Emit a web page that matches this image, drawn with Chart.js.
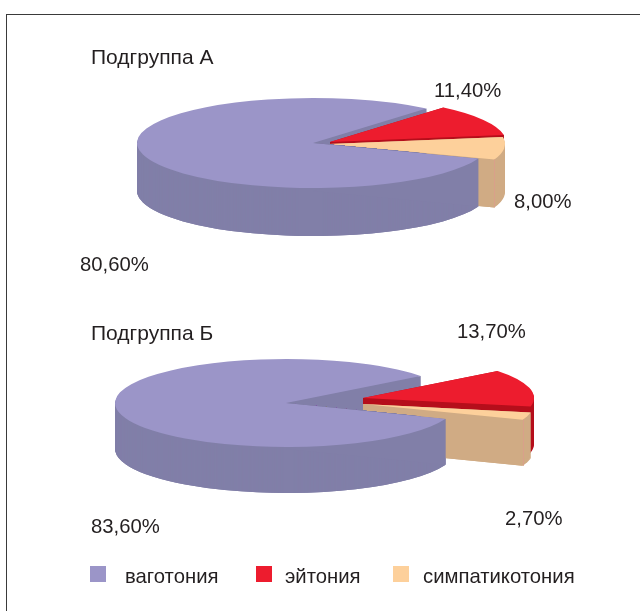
<!DOCTYPE html>
<html lang="ru">
<head>
<meta charset="utf-8">
<title>Подгруппы</title>
<script src="https://cdn.jsdelivr.net/npm/chart.js@4"></script>
<style>
html,body{margin:0;padding:0;background:#fff;width:640px;height:611px;overflow:hidden}
#frame{position:absolute;left:6px;top:14px;width:640px;height:610px;border-left:1px solid #3a3a3a;border-top:1px solid #3a3a3a}
canvas{position:absolute;left:0;top:0}
.t{position:absolute;font-family:"Liberation Sans",Arial,sans-serif;font-size:20.3px;line-height:22px;color:#231f20;white-space:nowrap}
.h{font-size:21px}
.s{position:absolute;width:16px;height:16px}
</style>
</head>
<body>
<div id="frame"></div>
<canvas id="a" width="640" height="611"></canvas>
<canvas id="b" width="640" height="611"></canvas>
<script>
const categories = ['ваготония', 'эйтония', 'симпатикотония'];
const subgroupA = [80.6, 11.4, 8.0];
const subgroupB = [83.6, 13.7, 2.7];
const titleA = 'Подгруппа А';
const titleB = 'Подгруппа Б';

const topColors = ['#9b95c8', '#ed1c2e', '#fdd09b'];
const wallColors = ['#817fa8', '#b50e1b', '#d0ab84'];

const viewA = {cx:313, cy:143, rx:176, ry:45, depth:48, rotation:110, shift:[[0,0],[17,-1],[16,1]]};
const viewB = {cx:286, cy:403, rx:171, ry:44, depth:46, rotation:111, shift:[[0,0],[77,-5],[77,1]]};

function paint(ctx, arc, view, i, color, dy) {
  const saved = arc.options;
  arc.options = {backgroundColor:color, borderColor:color, borderWidth:0, offset:0, spacing:0,
    borderRadius:0, borderAlign:'center', borderJoinStyle:'round', circular:true, borderDash:[], borderDashOffset:0};
  ctx.save();
  ctx.translate(view.cx + view.shift[i][0], view.cy + view.shift[i][1] + dy);
  ctx.scale(1, view.ry / view.rx);
  ctx.translate(-arc.x, -arc.y);
  arc.draw(ctx);
  ctx.restore();
  arc.options = saved;
}
function edgeWall(ctx, arc, view, i, angle) {
  const ox = view.cx + view.shift[i][0], oy = view.cy + view.shift[i][1];
  const px = ox + Math.cos(angle) * view.rx;
  const py = oy + Math.sin(angle) * view.ry;
  ctx.fillStyle = wallColors[i];
  ctx.beginPath();
  ctx.moveTo(ox, oy);
  ctx.lineTo(px, py);
  ctx.lineTo(px, py + view.depth);
  ctx.lineTo(ox, oy + view.depth);
  ctx.closePath();
  ctx.fill();
}
function solid(ctx, arc, view, i) {
  for (let d = view.depth; d >= 1; d--) paint(ctx, arc, view, i, wallColors[i], d);
  edgeWall(ctx, arc, view, i, arc.startAngle);
  edgeWall(ctx, arc, view, i, arc.endAngle);
  paint(ctx, arc, view, i, topColors[i], 0);
}
const pie3d = {
  id: 'pie3d',
  beforeDatasetsDraw(chart, args, opts) {
    const ctx = chart.ctx, view = opts.view, arcs = chart.getDatasetMeta(0).data;
    solid(ctx, arcs[0], view, 0);
    solid(ctx, arcs[1], view, 1);
    solid(ctx, arcs[2], view, 2);
    // corner line of the last slice's end wall
    const o = arcs[2], sc = view.ry / view.rx;
    const px = view.cx + view.shift[2][0] + Math.cos(o.endAngle) * view.rx;
    const py = view.cy + view.shift[2][1] + Math.sin(o.endAngle) * view.ry;
    ctx.save();
    ctx.strokeStyle = '#d9a08a';
    ctx.lineWidth = 1;
    ctx.beginPath();
    ctx.moveTo(Math.round(px) + .5, py);
    ctx.lineTo(Math.round(px) + .5, py + view.depth);
    ctx.stroke();
    ctx.restore();
    // front part of the big slice sits over the exploded slices
    const a = arcs[0].startAngle, k = 1000;
    const dx = Math.cos(a), dy = Math.sin(a) * sc;
    ctx.save();
    ctx.beginPath();
    ctx.moveTo(view.cx, view.cy);
    ctx.lineTo(view.cx + k * dx, view.cy + k * dy);
    ctx.lineTo(view.cx + k * dx, 900);
    ctx.lineTo(-10, 900);
    ctx.lineTo(-10, view.cy);
    ctx.closePath();
    ctx.clip();
    solid(ctx, arcs[0], view, 0);
    ctx.restore();
    return false;
  }
};
function makeChart(id, values, view) {
  return new Chart(document.getElementById(id), {
    type: 'pie',
    data: {labels: categories, datasets: [{data: values, backgroundColor: topColors, borderWidth: 0}]},
    options: {
      responsive: false, animation: false, events: [],
      rotation: view.rotation, radius: view.rx,
      plugins: {legend: {display: false}, tooltip: {enabled: false}, pie3d: {view}}
    },
    plugins: [pie3d]
  });
}
makeChart('a', subgroupA, viewA);
makeChart('b', subgroupB, viewB);

const pct = v => v.toFixed(2).replace('.', ',') + '%';
function text(s, x, y, cls) {
  const e = document.createElement('div');
  e.className = 't' + (cls ? ' ' + cls : ''); e.textContent = s;
  e.style.left = x + 'px'; e.style.top = (y - 11) + 'px';
  document.body.appendChild(e);
}
text(titleA, 91, 57, 'h');
text(pct(subgroupA[1]), 434, 90);
text(pct(subgroupA[2]), 514, 201);
text(pct(subgroupA[0]), 80, 264);
text(titleB, 91, 333, 'h');
text(pct(subgroupB[1]), 457, 331);
text(pct(subgroupB[2]), 505, 518);
text(pct(subgroupB[0]), 91, 526);
[[90,125],[256,285],[393,423]].forEach((p, i) => {
  const s = document.createElement('div');
  s.className = 's'; s.style.left = p[0] + 'px'; s.style.top = '566px';
  s.style.background = topColors[i];
  document.body.appendChild(s);
  text(categories[i], p[1], 576);
});
</script>
</body>
</html>
